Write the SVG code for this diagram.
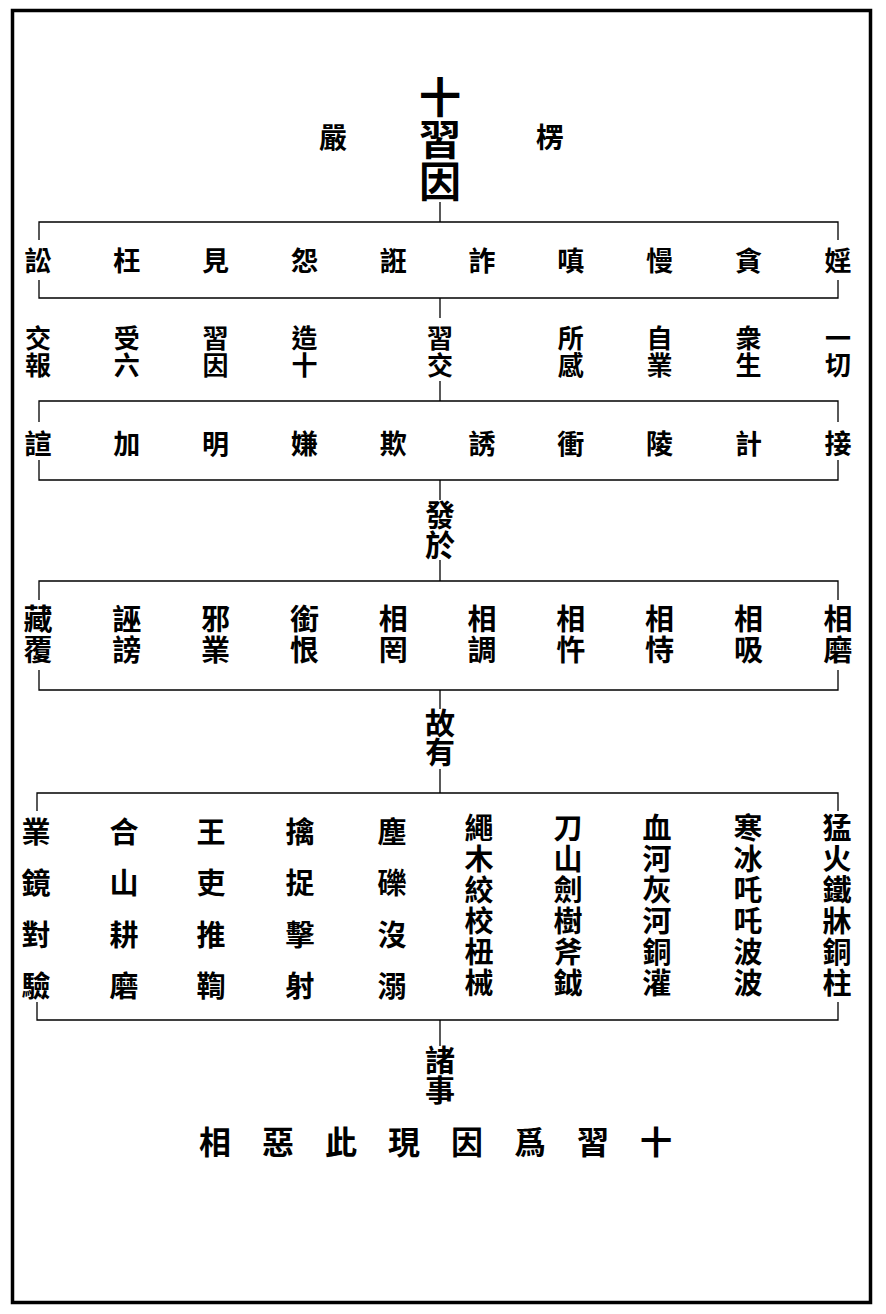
<svg xmlns="http://www.w3.org/2000/svg" width="886" height="1314" viewBox="0 0 886 1314">
<style>
.t{font-family:"Noto Sans CJK TC","Noto Sans CJK SC","Noto Sans CJK JP",sans-serif;font-weight:700;text-anchor:middle;fill:#000}
.v{writing-mode:vertical-rl;text-anchor:start}
.s42{font-size:42px}
.s28{font-size:28px}
.s27{font-size:27px}
.s26{font-size:26px}
.s29{font-size:29px}
.s30{font-size:30px}
.s32{font-size:32px}
.ls1{letter-spacing:1px}
.ls2{letter-spacing:2px}
.ls22{letter-spacing:22.3px}
.lsm1{letter-spacing:-1px}
.ln{stroke:#000;stroke-width:1.3;fill:none}
</style>
<rect x="0" y="0" width="886" height="1314" fill="#fff"/>
<rect x="12.5" y="10.5" width="858" height="1292" fill="none" stroke="#000" stroke-width="3.5"/>

<g id="connectors">
<path class="ln" d="M440 202V222"/>
<path class="ln" d="M39 240V222H838V240"/>
<path class="ln" d="M39 280V298H838V280"/>
<path class="ln" d="M440 298V318"/>
<path class="ln" d="M440 381V401"/>
<path class="ln" d="M39 422V401H838V422"/>
<path class="ln" d="M39 460V480H838V460"/>
<path class="ln" d="M440 480V500"/>
<path class="ln" d="M440 560V581"/>
<path class="ln" d="M39 600V581H838V600"/>
<path class="ln" d="M39 670V690H838V670"/>
<path class="ln" d="M440 690V709"/>
<path class="ln" d="M440 769V793"/>
<path class="ln" d="M37 811V793H838V811"/>
<path class="ln" d="M37 1002V1020H838V1002"/>
<path class="ln" d="M440 1020V1046"/>
</g>

<g id="title">
<text class="t v s42" x="440" y="76">十習因</text>
</g>
<g id="lengyan">
<text class="t s28" x="550" y="147.6">楞</text>
<text class="t s28" x="333" y="147.6">嚴</text>
</g>

<g id="row1">
<text class="t s27" x="38" y="271.3">訟</text>
<text class="t s27" x="126.8" y="271.3">枉</text>
<text class="t s27" x="215.6" y="271.3">見</text>
<text class="t s27" x="304.4" y="271.3">怨</text>
<text class="t s27" x="393.2" y="271.3">誑</text>
<text class="t s27" x="482" y="271.3">詐</text>
<text class="t s27" x="570.8" y="271.3">嗔</text>
<text class="t s27" x="659.6" y="271.3">慢</text>
<text class="t s27" x="748.4" y="271.3">貪</text>
<text class="t s27" x="838" y="271.3">婬</text>
</g>

<g id="row2">
<text class="t v s26 ls1" x="38" y="325">交報</text>
<text class="t v s26 ls1" x="126.8" y="325">受六</text>
<text class="t v s26 ls1" x="215.6" y="325">習因</text>
<text class="t v s26 ls1" x="304.4" y="325">造十</text>
<text class="t v s26 ls1" x="440" y="325">習交</text>
<text class="t v s26 ls1" x="570.8" y="325">所感</text>
<text class="t v s26 ls1" x="659.6" y="325">自業</text>
<text class="t v s26 ls1" x="748.4" y="325">衆生</text>
<text class="t v s26 ls1" x="838" y="325">一切</text>
</g>

<g id="row3">
<text class="t s27" x="38" y="454.3">諠</text>
<text class="t s27" x="126.8" y="454.3">加</text>
<text class="t s27" x="215.6" y="454.3">明</text>
<text class="t s27" x="304.4" y="454.3">嫌</text>
<text class="t s27" x="393.2" y="454.3">欺</text>
<text class="t s27" x="482" y="454.3">誘</text>
<text class="t s27" x="570.8" y="454.3">衝</text>
<text class="t s27" x="659.6" y="454.3">陵</text>
<text class="t s27" x="748.4" y="454.3">計</text>
<text class="t s27" x="838" y="454.3">接</text>
</g>

<g id="fayu">
<text class="t v s30" x="440" y="500">發於</text>
</g>

<g id="row4">
<text class="t v s29 ls2" x="38" y="604.5">藏覆</text>
<text class="t v s29 ls2" x="126.8" y="604.5">誣謗</text>
<text class="t v s29 ls2" x="215.6" y="604.5">邪業</text>
<text class="t v s29 ls2" x="304.4" y="604.5">銜恨</text>
<text class="t v s29 ls2" x="393.2" y="604.5">相罔</text>
<text class="t v s29 ls2" x="482" y="604.5">相調</text>
<text class="t v s29 ls2" x="570.8" y="604.5">相忤</text>
<text class="t v s29 ls2" x="659.6" y="604.5">相恃</text>
<text class="t v s29 ls2" x="748.4" y="604.5">相吸</text>
<text class="t v s29 ls2" x="838" y="604.5">相磨</text>
</g>

<g id="guyou">
<text class="t v s30 lsm1" x="440" y="708">故有</text>
</g>

<g id="row5">
<text class="t v s29 ls22" x="36" y="817.5">業鏡對驗</text>
<text class="t v s29 ls22" x="124" y="817.5">合山耕磨</text>
<text class="t v s29 ls22" x="211" y="817.5">王吏推鞫</text>
<text class="t v s29 ls22" x="300" y="817.5">擒捉擊射</text>
<text class="t v s29 ls22" x="392" y="817.5">塵礫沒溺</text>
<text class="t v s29 ls2" x="479" y="813.5">繩木絞校杻械</text>
<text class="t v s29 ls2" x="568" y="813.5">刀山劍樹斧鉞</text>
<text class="t v s29 ls2" x="657" y="813.5">血河灰河銅灌</text>
<text class="t v s29 ls2" x="748" y="813.5">寒冰吒吒波波</text>
<text class="t v s29 ls2" x="837" y="813.5">猛火鐵牀銅柱</text>
</g>

<g id="zhushi">
<text class="t v s30" x="440" y="1045">諸事</text>
</g>

<g id="bottom">
<text class="t s32" x="215" y="1154.2">相</text>
<text class="t s32" x="278" y="1154.2">惡</text>
<text class="t s32" x="341" y="1154.2">此</text>
<text class="t s32" x="404" y="1154.2">現</text>
<text class="t s32" x="467" y="1154.2">因</text>
<text class="t s32" x="530" y="1154.2">爲</text>
<text class="t s32" x="593" y="1154.2">習</text>
<text class="t s32" x="656" y="1154.2">十</text>
</g>
</svg>
